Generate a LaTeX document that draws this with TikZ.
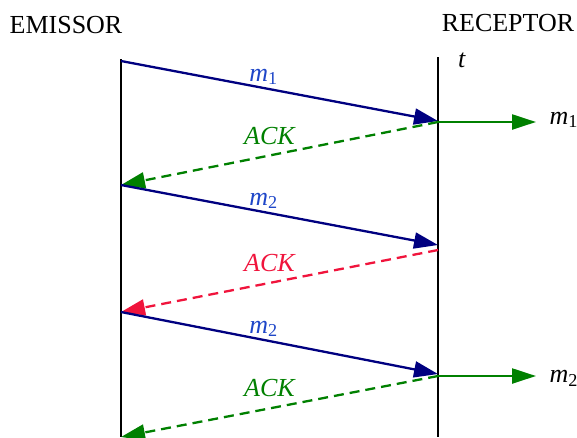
\documentclass[tikz,border=0pt]{standalone}
\usepackage{fontspec}
\setmainfont{Liberation Serif}
\usetikzlibrary{arrows.meta}
\definecolor{MsgNavy}{RGB}{0,0,128}
\definecolor{MsgBlue}{RGB}{30,70,200}
\definecolor{AckGreen}{RGB}{0,128,0}
\definecolor{AckRed}{RGB}{240,20,60}
\newcommand{\msgm}[1]{\textit{m}\textsubscript{#1}}

\begin{document}
\begin{tikzpicture}[
    x=1pt,y=-1pt,
    font=\fontsize{26}{30}\selectfont,
    timeline/.style={line width=2.3pt,black},
    msg/.style={line width=2.3pt,MsgNavy,-{Triangle[length=24pt,width=16pt]}},
    ack/.style={line width=2.3pt,dash pattern=on 10pt off 6pt,-{Triangle[length=24pt,width=16pt]}},
    deliver/.style={line width=2.3pt,AckGreen,-{Triangle[length=24pt,width=15pt]}},
    lbl/.style={MsgBlue,anchor=south,inner sep=2pt},
    acklbl/.style={anchor=south,inner sep=2pt,yshift=8pt}
  ]
    \useasboundingbox (0,0) rectangle (577,437);
    % names of the two ends
    \node (emissor) at (66,25) {EMISSOR};
    \node (receptor) at (508,23) {RECEPTOR};
    \node (t) at (462,60) {\textit{t}};
    % time lines
    \coordinate (etop) at (121,59);
    \coordinate (ebot) at (121,437);
    \coordinate (rtop) at (438,57);
    \coordinate (rbot) at (438,437);
    \draw[timeline] (etop) -- (ebot);
    \draw[timeline] (rtop) -- (rbot);
    % points on the lines
    \coordinate (e1) at (121,61);
    \coordinate (r1) at (438,121);
    \coordinate (r1a) at (438,122);
    \coordinate (e2) at (121,185);
    \coordinate (r2) at (438,245);
    \coordinate (r2a) at (438,250);
    \coordinate (e3) at (121,312);
    \coordinate (r3) at (438,374);
    \coordinate (r3a) at (438,376);
    \coordinate (e4) at (121,437);
    % messages and acks
    \draw[msg] (e1) -- node[lbl,pos=0.45] {\msgm{1}} (r1);
    \draw[ack,AckGreen] (r1a) -- node[acklbl,pos=0.53] {\textit{ACK}} (e2);
    \draw[msg] (e2) -- node[lbl,pos=0.45] {\msgm{2}} (r2);
    \draw[ack,AckRed] (r2a) -- node[acklbl,pos=0.53] {\textit{ACK}} (e3);
    \draw[msg] (e3) -- node[lbl,pos=0.45] {\msgm{2}} (r3);
    \draw[ack,AckGreen] (r3a) -- node[acklbl,pos=0.53] {\textit{ACK}} (e4);
    % delivered messages
    \coordinate (d1) at (536,122);
    \coordinate (d2) at (536,376);
    \draw[deliver] (r1a) -- (d1);
    \draw[deliver] (r3a) -- (d2);
    \node[anchor=west] (out1) at (546,120) {\msgm{1}};
    \node[anchor=west] (out2) at (546,378) {\msgm{2}};
\end{tikzpicture}
\end{document}
